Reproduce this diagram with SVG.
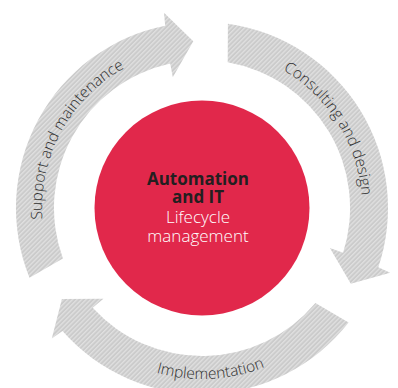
<svg xmlns="http://www.w3.org/2000/svg" width="398" height="388" viewBox="0 0 398 388">
<defs>
<pattern id="hatch" width="3.2" height="3.2" patternUnits="userSpaceOnUse" patternTransform="rotate(45)">
<rect width="3.2" height="3.2" fill="#cbcbcb"/>
<rect width="1.3" height="3.2" fill="#e0e0e0"/>
</pattern>
<path id="tp-consult" d="M196.4,48.1 A160,160 0 0 1 343.3,283.1"/>
<path id="tp-support" d="M65.6,291.6 A160,160 0 0 1 197.8,48.0"/>
<path id="tp-impl" d="M58.6,301.1 A171,171 0 0 0 354.4,285.6"/>
</defs>
<style>
.arrow{fill:url(#hatch);stroke:none}
.lbl{font-family:"Open Sans","Noto Sans",sans-serif;font-size:15.5px;font-weight:300;fill:#2e2e2e}
.hub{font-family:"Open Sans","Noto Sans",sans-serif;font-size:17px;text-anchor:middle}
.b{font-weight:bold;fill:#231f20}
.w{fill:#ffffff;font-weight:300}
</style>
<rect width="398" height="388" fill="#ffffff"/>
<g id="connectors">
<g id="arrow-consulting">
<path class="arrow" d="M227.9,23.8 A186,186 0 0 1 378.3,267.3 L390.2,272.8 L350.8,283.8 L329.9,248.1 L343.1,252.8 A148,148 0 0 0 227.7,62.2 Z"/>
<text class="lbl"><textPath href="#tp-consult" startOffset="50%" text-anchor="middle">Consulting and design</textPath></text>
</g>
<g id="arrow-implementation">
<path class="arrow" d="M348.6,322.5 A186,186 0 0 1 62.5,331.0 L51.8,338.6 L61.9,298.9 L103.4,298.7 L92.7,307.8 A148,148 0 0 0 315.4,303.1 Z"/>
<text class="lbl"><textPath href="#tp-impl" startOffset="50%" text-anchor="middle">Implementation</textPath></text>
</g>
<g id="arrow-support">
<path class="arrow" d="M29.5,277.7 A186,186 0 0 1 165.2,25.7 L164.0,12.7 L193.3,41.2 L172.8,77.2 L170.2,63.4 A148,148 0 0 0 62.9,258.6 Z"/>
<text class="lbl"><textPath href="#tp-support" startOffset="50%" text-anchor="middle">Support and maintenance</textPath></text>
</g>
</g>
<g id="hub">
<circle cx="202" cy="208" r="107.5" fill="#e1284b"/>
<text class="hub" x="198" y="185"><tspan class="b" x="198" y="185">Automation</tspan><tspan class="b" x="198" y="203">and IT</tspan><tspan class="w" x="198" y="223">Lifecycle</tspan><tspan class="w" x="198" y="242">management</tspan></text>
</g>
</svg>
